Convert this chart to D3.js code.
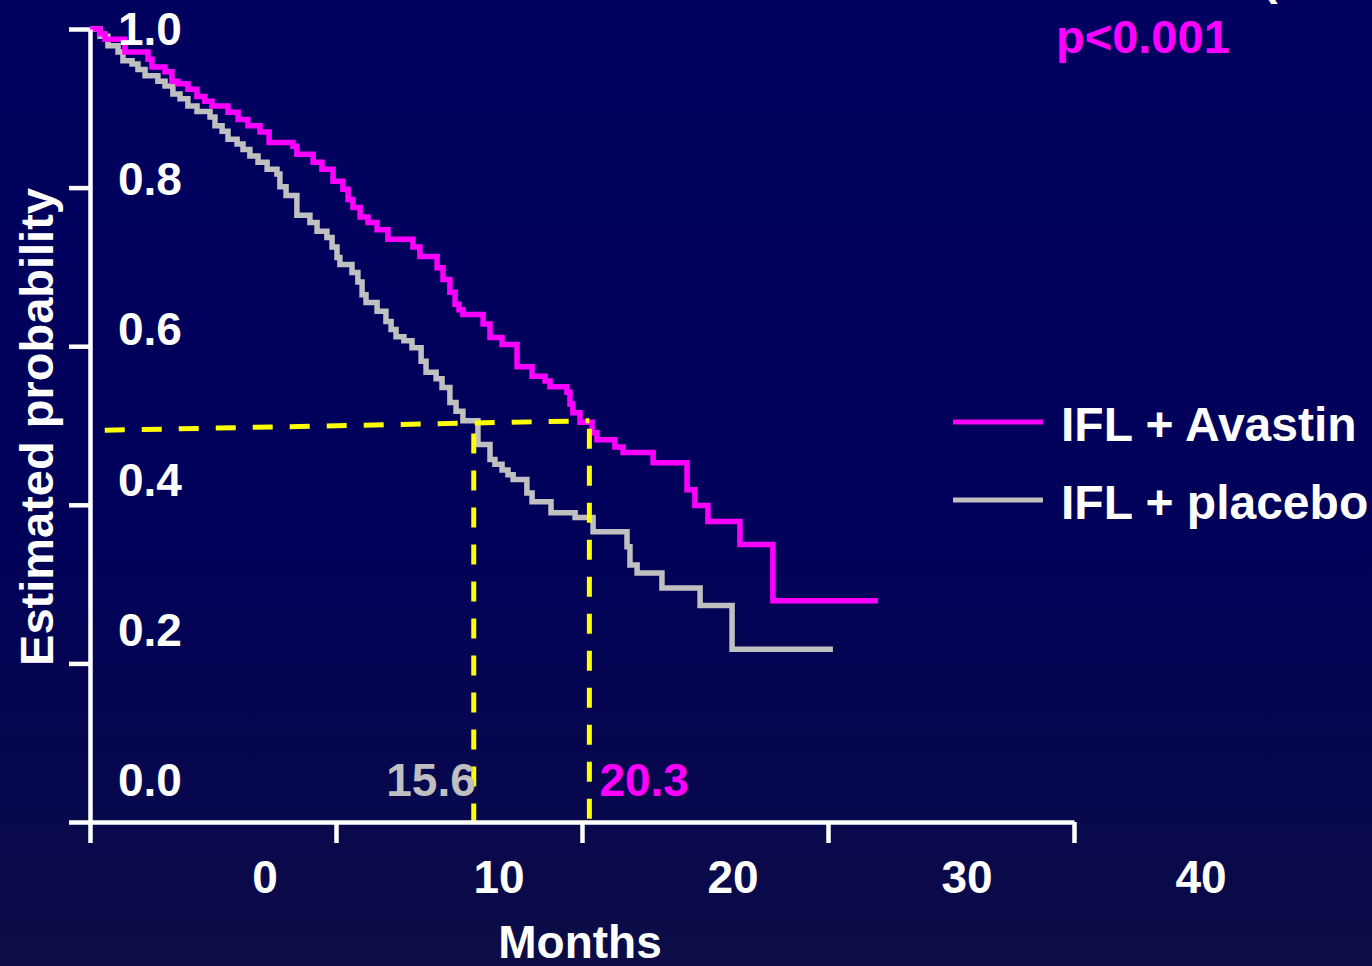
<!DOCTYPE html>
<html>
<head>
<meta charset="utf-8">
<script src="https://cdn.jsdelivr.net/npm/d3@7"></script>
<style>
  html, body { margin: 0; padding: 0; background: #00005e; overflow: hidden; }
  svg { display: block; }
  text { font-family: "Liberation Sans", Arial, Helvetica, sans-serif; font-weight: bold; }
</style>
</head>
<body>
<svg id="chart" width="1372" height="966"></svg>
<script>
// Kaplan–Meier overall survival, IFL + Avastin vs IFL + placebo
const avastinMonths = [0, 0.41, 0.61, 1.42, 2.36, 2.52, 3.05, 3.33, 3.58, 3.98, 4.35, 4.67, 4.96, 5.61, 6.02, 6.42, 6.91, 7.28, 8.25, 8.41, 9.07, 9.43, 9.88, 10.28, 10.49, 10.69, 10.98, 11.30, 11.67, 12.11, 13.13, 13.41, 14.11, 14.35, 14.63, 14.84, 15.00, 15.16, 15.98, 16.26, 16.75, 17.36, 17.97, 18.50, 18.70, 19.39, 19.51, 19.63, 19.92, 20.41, 20.61, 21.34, 21.67, 22.89, 24.27, 24.59, 25.12, 26.42, 27.76, 32.03];
const avastinSurvival = [1.0, 0.994, 0.987, 0.971, 0.962, 0.952, 0.946, 0.934, 0.931, 0.924, 0.915, 0.909, 0.903, 0.895, 0.886, 0.878, 0.870, 0.857, 0.852, 0.842, 0.832, 0.823, 0.808, 0.798, 0.785, 0.775, 0.763, 0.756, 0.747, 0.735, 0.725, 0.713, 0.699, 0.684, 0.668, 0.653, 0.646, 0.640, 0.628, 0.611, 0.602, 0.574, 0.562, 0.556, 0.549, 0.542, 0.527, 0.516, 0.504, 0.491, 0.482, 0.473, 0.466, 0.453, 0.419, 0.399, 0.379, 0.350, 0.279, 0.279];

const placeboMonths = [0, 0.41, 0.73, 1.14, 1.34, 1.71, 1.95, 2.24, 2.76, 3.05, 3.37, 3.66, 3.98, 4.35, 4.88, 5.08, 5.37, 5.61, 5.98, 6.22, 6.50, 6.83, 7.20, 7.60, 7.72, 7.97, 8.41, 8.94, 9.23, 9.63, 9.84, 10.04, 10.16, 10.65, 10.89, 11.06, 11.22, 11.67, 12.03, 12.24, 12.44, 12.76, 13.09, 13.46, 13.66, 14.07, 14.31, 14.63, 14.88, 15.16, 15.77, 16.26, 16.46, 16.75, 16.99, 17.20, 17.76, 17.97, 18.74, 19.72, 20.45, 21.83, 21.95, 22.24, 23.25, 24.80, 26.10, 30.20];
const placeboSurvival = [1.0, 0.991, 0.979, 0.971, 0.960, 0.956, 0.949, 0.941, 0.934, 0.928, 0.918, 0.912, 0.903, 0.896, 0.889, 0.878, 0.871, 0.861, 0.855, 0.848, 0.840, 0.832, 0.823, 0.817, 0.801, 0.790, 0.765, 0.756, 0.745, 0.737, 0.725, 0.712, 0.703, 0.693, 0.681, 0.665, 0.655, 0.644, 0.631, 0.621, 0.612, 0.607, 0.598, 0.581, 0.567, 0.559, 0.548, 0.529, 0.518, 0.506, 0.476, 0.457, 0.451, 0.444, 0.438, 0.432, 0.415, 0.404, 0.390, 0.384, 0.366, 0.347, 0.324, 0.314, 0.295, 0.273, 0.218, 0.218];

const xTicks = [0, 10, 20, 30, 40];
const xTickLabels = ["0", "10", "20", "30", "40"];
const yTicks = [0, 0.2, 0.4, 0.6, 0.8, 1.0];
const yTickLabels = ["0.0", "0.2", "0.4", "0.6", "0.8", "1.0"];

const medianPlacebo = 15.6;
const medianAvastin = 20.3;
// 50% reference guide (drawn slightly tilted on the slide)
const halfGuideMonths = [0.6, 20.3];
const halfGuideLevels = [0.494, 0.506];

const seriesNames = ["IFL + Avastin", "IFL + placebo"];
const seriesColors = ["#ff00ff", "#c0c0c0"];
const pValueText = "p<0.001";

const svg = d3.select("#chart");
const W = 1372, H = 966;

// background gradient
const defs = svg.append("defs");
const grad = defs.append("linearGradient").attr("id", "bg").attr("x1", 0).attr("y1", 0).attr("x2", 0).attr("y2", 1);
grad.append("stop").attr("offset", "0%").attr("stop-color", "#00005f");
grad.append("stop").attr("offset", "55%").attr("stop-color", "#01015a");
grad.append("stop").attr("offset", "100%").attr("stop-color", "#0c0c46");
svg.append("rect").attr("width", W).attr("height", H).attr("fill", "url(#bg)");

const x = d3.scaleLinear().domain([0, 40]).range([90, 1074]);
const y = d3.scaleLinear().domain([0, 1]).range([822, 29]);
// tick labels sit offset from their ticks on the slide
const xLabel = d3.scaleLinear().domain([0, 40]).range([265, 1201]);
const yLabel = d3.scaleLinear().domain([0, 1]).range([796, 45]);

const toPoints = (ms, ss) => ms.map((m, i) => [m, ss[i]]);
const stepLine = d3.line().x(d => x(d[0])).y(d => y(d[1])).curve(d3.curveStepAfter);

// survival curves
const curves = [toPoints(avastinMonths, avastinSurvival), toPoints(placeboMonths, placeboSurvival)];
[1, 0].forEach(i => {
  svg.append("path")
    .attr("d", stepLine(curves[i]))
    .attr("fill", "none")
    .attr("stroke", seriesColors[i])
    .attr("stroke-width", 5.5)
    .attr("stroke-linejoin", "miter")
    .attr("stroke-linecap", "butt");
});

// median guides
const guide = svg.append("g").attr("stroke", "#ffff00").attr("stroke-width", 5).attr("stroke-dasharray", "20,17").attr("fill", "none");
guide.append("line")
  .attr("x1", x(halfGuideMonths[0])).attr("y1", y(halfGuideLevels[0]))
  .attr("x2", x(halfGuideMonths[1])).attr("y2", y(halfGuideLevels[1]));
[[medianPlacebo, 0.49], [medianAvastin, 0.496]].forEach(([m, top]) => {
  guide.append("line")
    .attr("x1", x(m)).attr("y1", y(top))
    .attr("x2", x(m)).attr("y2", y(0));
});

// axes
const axisX = svg.append("g").attr("transform", `translate(0,${y(0)})`)
  .call(d3.axisBottom(x).tickValues(xTicks).tickSize(21).tickSizeOuter(0).tickFormat(""));
const axisY = svg.append("g").attr("transform", `translate(${x(0)},0)`)
  .call(d3.axisLeft(y).tickValues(yTicks).tickSize(21).tickSizeOuter(0).tickFormat(""));
[axisX, axisY].forEach(g => {
  g.selectAll("path.domain").attr("stroke", "#ffffff").attr("stroke-width", 4.5);
  g.selectAll(".tick line").attr("stroke", "#ffffff").attr("stroke-width", 4.5);
});

// tick labels
svg.append("g").selectAll("text").data(yTicks).join("text")
  .attr("x", 118).attr("y", d => yLabel(d))
  .attr("fill", "#ffffff").attr("font-size", 46)
  .text((d, i) => yTickLabels[i]);
svg.append("g").selectAll("text").data(xTicks).join("text")
  .attr("x", d => xLabel(d)).attr("y", 893)
  .attr("text-anchor", "middle")
  .attr("fill", "#ffffff").attr("font-size", 46)
  .text((d, i) => xTickLabels[i]);

// axis titles
svg.append("text").attr("x", 580).attr("y", 958).attr("text-anchor", "middle")
  .attr("fill", "#ffffff").attr("font-size", 46).text("Months");
svg.append("text").attr("transform", "translate(53,427) rotate(-90)").attr("text-anchor", "middle")
  .attr("fill", "#ffffff").attr("font-size", 47).text("Estimated probability");

// median values
svg.append("text").attr("x", x(medianPlacebo) + 2).attr("y", 796).attr("text-anchor", "end")
  .attr("fill", seriesColors[1]).attr("font-size", 46).text(medianPlacebo.toFixed(1));
svg.append("text").attr("x", x(medianAvastin) + 10).attr("y", 796)
  .attr("fill", seriesColors[0]).attr("font-size", 46).text(medianAvastin.toFixed(1));

// p-value
svg.append("text").attr("x", 1056).attr("y", 53)
  .attr("fill", "#ff00ff").attr("font-size", 47).text(pValueText);
// edge of the heading bracket above the panel
svg.append("text").attr("x", 1262).attr("y", -6)
  .attr("fill", "#ffffff").attr("font-size", 47).text("(");

// legend
const legend = svg.append("g");
seriesNames.forEach((name, i) => {
  const ly = 422 + i * 78;
  legend.append("line").attr("x1", 953).attr("x2", 1043).attr("y1", ly).attr("y2", ly)
    .attr("stroke", seriesColors[i]).attr("stroke-width", 5);
  legend.append("text").attr("x", 1061).attr("y", ly + 19)
    .attr("fill", "#ffffff").attr("font-size", 48).text(name);
});
</script>
</body>
</html>
